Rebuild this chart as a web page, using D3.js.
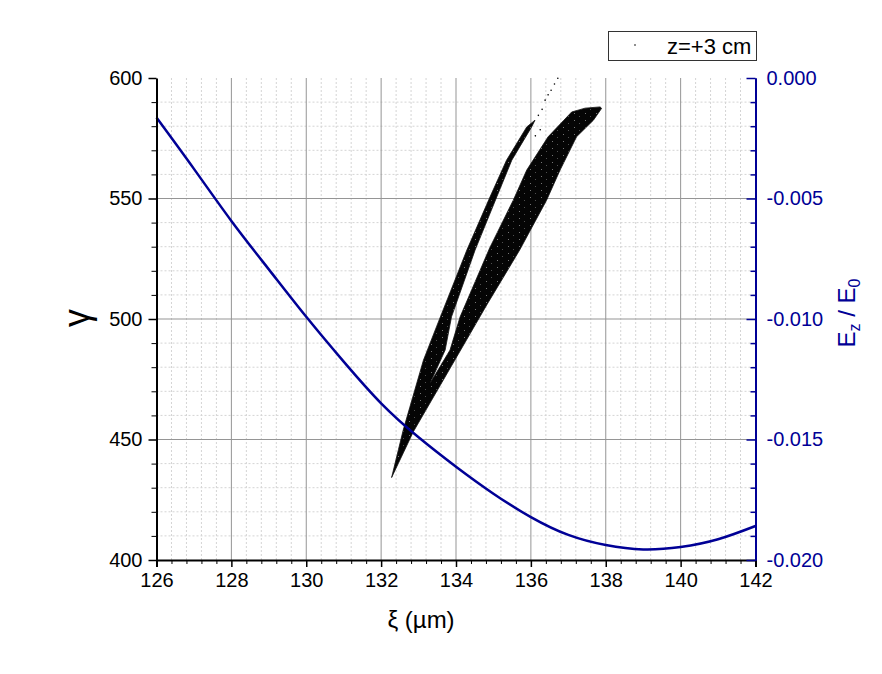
<!DOCTYPE html>
<html><head><meta charset="utf-8">
<script src="https://cdn.jsdelivr.net/npm/d3@7/dist/d3.min.js"></script>
<style>body{margin:0;background:#fff} text{font-family:Arial,"Liberation Sans",sans-serif}</style>
</head><body>
<svg id="chart" width="882" height="674"></svg>
<script>
// ---- data ----
const xiTicks = [126,128,130,132,134,136,138,140,142];
const gammaTicks = [400,450,500,550,600];
const ezTicks = [0,-0.005,-0.010,-0.015,-0.020];
const ezTickLabels = ["0.000","-0.005","-0.010","-0.015","-0.020"];

// Ez/E0 curve
const ezXi  = [126,127,128,129,130,131,132,133,134,135,136,137,138,139,140,141,142];
const ezVal = [-0.00164,-0.00377,-0.00593,-0.00794,-0.00991,-0.01177,-0.01350,-0.01491,-0.01613,-0.01725,-0.01822,-0.01896,-0.01938,-0.01956,-0.01946,-0.01914,-0.01859];

// outline of the dense particle cloud (xi, gamma)
const cloudXi = [132.28,132.86,134.02,134.82,135.70,136.42,136.78,137.22,137.67,137.89,137.85,137.45,137.09,136.46,135.89,135.53,134.90,134.11,133.84,133.31,133.71,133.88,134.51,135.09,135.49,136.02,136.11,135.89,135.35,134.91,134.29,133.53,133.13,132.59];
const cloudGamma = [434.2,453.2,484.3,505.8,528.6,549.3,561.8,575.6,582.5,587.4,588.0,587.5,585.9,575.6,561.8,549.3,529.5,500.9,487.1,473.4,487.1,500.9,528.6,550.7,565.9,579.7,582.5,579.7,565.9,550.7,528.6,498.8,482.9,453.9];

// sparse particles above the thin branch
const strayXi = [136.20,136.30,136.38,136.46,136.54,136.63,136.72,136.25,136.12];
const strayGamma = [584.5,587.0,590.8,593.0,594.9,597.5,599.9,578.5,576.0];

const legendLabel = "z=+3 cm";

// ---- scales ----
const svg = d3.select("#chart");
const x = d3.scaleLinear().domain([126,142]).range([156.5,755.5]);
const yG = d3.scaleLinear().domain([400,600]).range([560,78]);
const yE = d3.scaleLinear().domain([-0.02,0]).range([560,78]);
const blue = "#000096";

const xMinor = d3.range(126,142.0001,0.4).filter(v => Math.abs(v/2 - Math.round(v/2)) > 1e-6);
const yMinor = d3.range(400,600.001,10).filter(v => v % 50 !== 0);

// minor grid
const g = svg.append("g");
g.selectAll(".vx").data(xMinor).join("line")
  .attr("x1",d=>x(d)).attr("x2",d=>x(d)).attr("y1",yG(400)).attr("y2",yG(600))
  .attr("stroke","#d4d4d4").attr("stroke-dasharray","2,2").attr("stroke-width",1);
g.selectAll(".hy").data(yMinor).join("line")
  .attr("x1",x(126)).attr("x2",x(142)).attr("y1",d=>yG(d)).attr("y2",d=>yG(d))
  .attr("stroke","#d4d4d4").attr("stroke-dasharray","2,2").attr("stroke-width",1);
// major grid
g.selectAll(".mx").data(xiTicks.slice(1,-1)).join("line")
  .attr("x1",d=>x(d)).attr("x2",d=>x(d)).attr("y1",yG(400)).attr("y2",yG(600))
  .attr("stroke","#959595").attr("stroke-width",1);
g.selectAll(".my").data(gammaTicks.slice(1,-1)).join("line")
  .attr("x1",x(126)).attr("x2",x(142)).attr("y1",d=>yG(d)).attr("y2",d=>yG(d))
  .attr("stroke","#959595").attr("stroke-width",1);

// speckle pattern for particle cloud
const defs = svg.append("defs");
const pat = defs.append("pattern").attr("id","speck").attr("patternUnits","userSpaceOnUse")
  .attr("width",11).attr("height",7);
pat.append("rect").attr("width",11).attr("height",7).attr("fill","#050505");
pat.append("rect").attr("x",2).attr("y",1).attr("width",1).attr("height",1).attr("fill","#fff").attr("opacity",0.45);
pat.append("rect").attr("x",7).attr("y",4).attr("width",1).attr("height",1).attr("fill","#fff").attr("opacity",0.3);

// particle cloud
const cloud = cloudXi.map((v,i)=>[v,cloudGamma[i]]);
svg.append("path")
  .attr("d", d3.line().x(d=>x(d[0])).y(d=>yG(d[1])).curve(d3.curveLinearClosed)(cloud))
  .attr("fill","url(#speck)").attr("stroke","#111").attr("stroke-width",0.8).attr("stroke-linejoin","round");
svg.selectAll(".stray").data(strayXi.map((v,i)=>[v,strayGamma[i]])).join("circle")
  .attr("cx",d=>x(d[0])).attr("cy",d=>yG(d[1])).attr("r",0.8).attr("fill","#000");

// Ez curve
const ez = ezXi.map((v,i)=>[v,ezVal[i]]);
svg.append("path")
  .attr("d", d3.line().x(d=>x(d[0])).y(d=>yE(d[1])).curve(d3.curveNatural)(ez))
  .attr("fill","none").attr("stroke",blue).attr("stroke-width",2.5);

// axes
const fs = "20px";
const ax = svg.append("g").attr("transform",`translate(0,${yG(400)})`)
  .call(d3.axisBottom(x).tickValues(xiTicks).tickSize(7).tickPadding(6).tickFormat(d3.format("d")));
svg.append("g").attr("transform",`translate(0,${yG(400)})`)
  .call(d3.axisBottom(x).tickValues(xMinor).tickSize(4).tickFormat("")).select(".domain").remove();
ax.selectAll("text").attr("font-size",fs).attr("fill","#000");
ax.selectAll("path,line").attr("stroke","#000").attr("stroke-width",1.5);

const ay = svg.append("g").attr("transform",`translate(${x(126)},0)`)
  .call(d3.axisLeft(yG).tickValues(gammaTicks).tickSize(8).tickSizeOuter(0).tickPadding(6).tickFormat(d3.format("d")));
svg.append("g").attr("transform",`translate(${x(126)},0)`)
  .call(d3.axisLeft(yG).tickValues(yMinor).tickSize(5).tickFormat("")).select(".domain").remove();
ay.selectAll("text").attr("font-size",fs).attr("fill","#000");
ay.selectAll("path,line").attr("stroke","#000").attr("stroke-width",1.5);

const ar = svg.append("g").attr("transform",`translate(${x(142)},0)`)
  .call(d3.axisRight(yE).tickValues(ezTicks).tickSizeInner(-9).tickSizeOuter(0).tickPadding(11)
    .tickFormat((d,i)=>ezTickLabels[i]));
svg.append("g").attr("transform",`translate(${x(142)},0)`)
  .call(d3.axisRight(yE).tickValues(yMinor.map(v=>yE.invert(yG(v)))).tickSizeInner(-5).tickSizeOuter(0).tickFormat(""))
  .selectAll("path,line").attr("stroke",blue).attr("stroke-width",1.5);
ar.selectAll("text").attr("font-size",fs).attr("fill",blue);
ar.selectAll("path,line").attr("stroke",blue).attr("stroke-width",1.5);
svg.selectAll(".domain").attr("stroke-width",2);

// axis titles
svg.append("text").attr("x",421).attr("y",628).attr("text-anchor","middle")
  .attr("font-size","24px").text("ξ (µm)");
svg.append("text").attr("transform","translate(89,318) rotate(-90)").attr("text-anchor","middle")
  .attr("font-size","36px").text("γ");
const rt = svg.append("text").attr("transform","translate(855,313) rotate(-90)").attr("text-anchor","middle")
  .attr("font-size","24px").attr("fill",blue);
rt.append("tspan").text("E");
rt.append("tspan").attr("font-size","16px").attr("dy",5).text("z");
rt.append("tspan").attr("dy",-5).text(" / E");
rt.append("tspan").attr("font-size","16px").attr("dy",5).text("0");

// legend
svg.append("rect").attr("x",608.5).attr("y",31.5).attr("width",148).attr("height",29)
  .attr("fill","#fff").attr("stroke","#333").attr("stroke-width",1);
svg.append("circle").attr("cx",635).attr("cy",45).attr("r",0.8).attr("fill","#000");
svg.append("text").attr("x",667).attr("y",53.5).attr("font-size","22px").text(legendLabel);
</script>
</body></html>
